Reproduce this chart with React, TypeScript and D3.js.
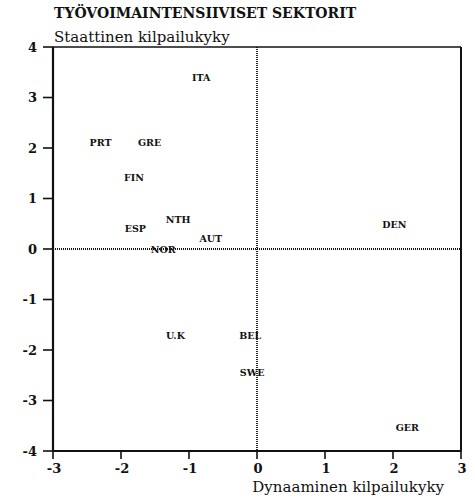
import React from "react";
import * as d3 from "d3";

const countries = ["ITA", "PRT", "GRE", "FIN", "NTH", "ESP", "AUT", "NOR", "DEN", "U.K", "BEL", "SWE", "GER"];
const dynamicValues = [-0.82, -2.3, -1.58, -1.81, -1.16, -1.79, -0.68, -1.38, 2.02, -1.2, -0.1, -0.07, 2.21];
const staticValues = [3.4, 2.1, 2.1, 1.41, 0.59, 0.4, 0.2, -0.02, 0.48, -1.72, -1.72, -2.44, -3.54];
const xTicks = [-3, -2, -1, 0, 1, 2, 3];
const yTicks = [4, 3, 2, 1, 0, -1, -2, -3, -4];

const title = "TYÖVOIMAINTENSIIVISET SEKTORIT";
const yTitle = "Staattinen kilpailukyky";
const xTitle = "Dynaaminen kilpailukyky";

export default function App() {
  const W = 475, H = 503;
  const left = 53, right = 461, top = 47, bottom = 451;
  const x = d3.scaleLinear().domain([-3, 3]).range([left, right]);
  const y = d3.scaleLinear().domain([-4, 4]).range([bottom, top]);
  const font = "'DejaVu Serif', 'Liberation Serif', serif";

  return (
    <svg width={W} height={H} style={{ position: "absolute", left: 0, top: 0, background: "#fff" }}>
      <rect x={0} y={0} width={W} height={H} fill="#fff" />
      <text x={54} y={18} fontFamily={font} fontWeight="bold" fontSize={14} fill="#111">{title}</text>
      <text x={54} y={42} fontFamily={font} fontSize={15} fill="#111">{yTitle}</text>

      {/* dotted zero lines */}
      <line x1={x(0)} x2={x(0)} y1={y(4)} y2={y(-4)} stroke="#111" strokeWidth={1.8} strokeDasharray="1,1" />
      <line x1={x(-3)} x2={x(3)} y1={y(0)} y2={y(0)} stroke="#111" strokeWidth={1.8} strokeDasharray="1,1" />

      {/* frame */}
      <line x1={x(-3)} x2={x(3)} y1={y(4)} y2={y(4)} stroke="#111" strokeWidth={1.5} />
      <line x1={x(3)} x2={x(3)} y1={y(4)} y2={y(-4)} stroke="#111" strokeWidth={2} />
      <line x1={x(-3)} x2={x(-3)} y1={y(4)} y2={y(-4)} stroke="#111" strokeWidth={2.2} />
      <line x1={x(-3)} x2={x(3)} y1={y(-4)} y2={y(-4)} stroke="#111" strokeWidth={2.2} />

      {yTicks.map((t) => (
        <g key={"y" + t}>
          <line x1={x(-3) - 10} x2={x(-3)} y1={y(t)} y2={y(t)} stroke="#111" strokeWidth={1.6} />
          <text x={37} y={y(t)} dy="0.36em" textAnchor="end" fontFamily={font} fontWeight="bold" fontSize={13} fill="#111">{t}</text>
        </g>
      ))}
      {xTicks.map((t) => (
        <g key={"x" + t}>
          <line x1={x(t)} x2={x(t)} y1={y(-4)} y2={y(-4) + 8} stroke="#111" strokeWidth={1.6} />
          <text x={x(t) + 1} y={473} textAnchor="middle" fontFamily={font} fontWeight="bold" fontSize={13} fill="#111">{t}</text>
        </g>
      ))}

      <text x={444} y={492} textAnchor="end" fontFamily={font} fontSize={15} fill="#111">{xTitle}</text>

      {countries.map((c, i) => (
        <text key={c} x={x(dynamicValues[i])} y={y(staticValues[i])} dy="0.35em" textAnchor="middle"
          fontFamily={font} fontWeight="bold" fontSize={9.5} fill="#111">{c}</text>
      ))}
    </svg>
  );
}
